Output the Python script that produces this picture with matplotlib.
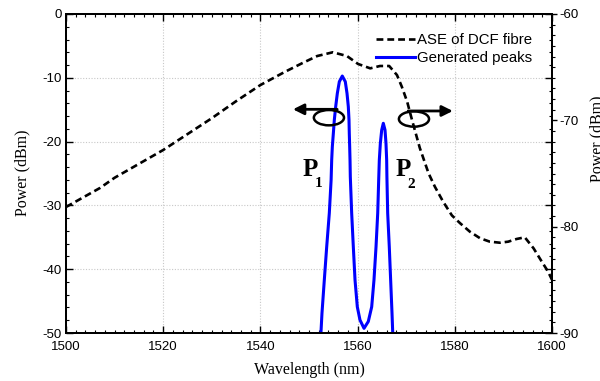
import matplotlib
matplotlib.use("Agg")
import matplotlib.pyplot as plt
from matplotlib.ticker import MultipleLocator
from matplotlib.patches import Ellipse

plt.rcParams["axes.unicode_minus"] = False

# ASE of DCF fibre (right axis, dBm)
ase_wl = [1500.0, 1507.0, 1510.0, 1520.0, 1530.0, 1535.0, 1540.0, 1545.0, 1548.8, 1551.7,
          1554.9, 1557.8, 1560.1, 1562.6, 1564.6, 1566.5, 1568.1, 1569.1, 1570.2, 1571.2,
          1572.8, 1574.6, 1575.9, 1577.6, 1579.4, 1581.1, 1583.1, 1585.2, 1587.2, 1589.3,
          1591.0, 1592.7, 1594.4, 1596.2, 1597.9, 1599.2, 1600.0]
ase_db = [-78.15, -76.36, -75.4, -72.79, -69.8, -68.2, -66.68, -65.45, -64.58, -63.95,
          -63.60, -63.95, -64.70, -65.11, -64.89, -64.89, -65.74, -66.84, -68.25, -69.97,
          -72.60, -74.98, -76.24, -77.65, -78.94, -79.68, -80.47, -81.09, -81.41, -81.51,
          -81.41, -81.16, -81.0, -82.03, -83.29, -84.23, -85.0]

# Generated peaks (left axis, dBm)
pk_wl = [1552.3, 1552.47, 1552.67, 1553.15, 1553.64, 1554.18, 1554.55, 1554.67, 1554.80,
         1555.01, 1555.21, 1555.49, 1555.83, 1556.24, 1556.85, 1557.47, 1557.82, 1558.09,
         1558.23, 1558.29, 1558.37, 1558.44, 1558.50, 1558.78, 1559.12, 1559.47, 1559.94,
         1560.49, 1561.32, 1562.20, 1562.90, 1563.37, 1563.79, 1564.14, 1564.34, 1564.47,
         1564.68, 1564.96, 1565.29, 1565.64, 1565.84, 1565.98, 1566.03, 1566.19, 1566.52,
         1566.80, 1567.08, 1567.22, 1567.35]
pk_db = [-52.0, -49.8, -46.9, -41.7, -36.5, -31.2, -26.0, -22.88, -20.80,
         -18.70, -16.61, -14.53, -12.43, -10.61, -9.72, -10.61, -12.43, -14.53,
         -16.61, -18.70, -20.80, -22.88, -25.5, -31.2, -36.5, -41.7, -45.9,
         -47.96, -49.27, -48.2, -45.9, -41.7, -36.5, -31.2, -26.0, -22.88,
         -20.27, -18.18, -17.13, -18.18, -20.27, -22.88, -25.5, -31.2, -36.5,
         -41.7, -46.9, -49.8, -52.0]

x_ticks = [1500, 1520, 1540, 1560, 1580, 1600]
left_ticks = [0, -10, -20, -30, -40, -50]
right_ticks = [-60, -70, -80, -90]

sans = ["Liberation Sans", "DejaVu Sans"]
serif = ["Liberation Serif", "DejaVu Serif"]

fig = plt.figure(figsize=(6, 3.81), dpi=100)
ax = fig.add_axes([66/600, 1-333/381, (552-66)/600, (333-14)/381])
ax2 = ax.twinx()

l2, = ax.plot(pk_wl, pk_db, color="#0000ff", lw=2.2, label="Generated peaks",
              solid_joinstyle="round", zorder=3)
l1, = ax2.plot(ase_wl, ase_db, color="black", lw=1.9, linestyle=(0, (2.6, 1.5)),
               label="ASE of DCF fibre")

ax.set_xlim(1500, 1600)
ax.set_ylim(-50, 0)
ax2.set_ylim(-90, -60)
ax.set_xticks(x_ticks)
ax.set_yticks(left_ticks)
ax2.set_yticks(right_ticks)
ax.xaxis.set_minor_locator(MultipleLocator(2))
ax.yaxis.set_minor_locator(MultipleLocator(2))
ax2.yaxis.set_minor_locator(MultipleLocator(1))

ax.grid(True, which="major", color="#c8c8c8", linestyle=(0, (1, 1.5)), lw=0.8)
ax.set_axisbelow(True)

ax.tick_params(which="both", direction="in", top=True, right=True, labelsize=9.5, pad=3)
ax.tick_params(axis="x", which="both", pad=6)
ax.tick_params(which="major", length=5, width=1.0)
ax.tick_params(which="minor", length=2.5, width=0.8)
ax2.tick_params(which="both", direction="out", labelsize=9.5, pad=2)
ax2.tick_params(which="major", length=3.5, width=1.0)
ax2.tick_params(which="minor", length=2, width=0.8)
for a in (ax, ax2):
    for lab in a.get_xticklabels() + a.get_yticklabels():
        lab.set_family(sans)
    for s in a.spines.values():
        s.set_linewidth(1.4)

fig.text(309/600, 1-370/381, "Wavelength (nm)", family=serif, fontsize=11.5,
         ha="center", va="center")
fig.text(22/600, 1-173/381, "Power (dBm)", family=serif, fontsize=11.5,
         ha="center", va="center", rotation=90)
fig.text(597/600, 1-139/381, "Power (dBm)", family=serif, fontsize=11.5,
         ha="center", va="center", rotation=90)

leg = ax2.legend([l1, l2], ["ASE of DCF fibre", "Generated peaks"], loc="upper right",
                 frameon=False, prop={"family": sans, "size": 10.8}, handlelength=2.6,
                 handletextpad=0.15, labelspacing=0.25, borderaxespad=0.0,
                 bbox_to_anchor=(1 - 14/486, 1 - 13/319))

# arrows with ellipses
ax.annotate("", xy=(1546.7, -14.94), xytext=(1555.8, -14.94),
            arrowprops=dict(arrowstyle="-|>", lw=2, color="black", mutation_scale=16,
                            shrinkA=0, shrinkB=0))
ax.add_patch(Ellipse((1554.1, -16.25), 6.2, 2.4, fill=False, lw=1.8, ec="black", zorder=4))
ax.annotate("", xy=(1579.6, -15.2), xytext=(1570.4, -15.2),
            arrowprops=dict(arrowstyle="-|>", lw=2, color="black", mutation_scale=16,
                            shrinkA=0, shrinkB=0))
ax.add_patch(Ellipse((1571.6, -16.46), 6.2, 2.4, fill=False, lw=1.8, ec="black", zorder=4))

ax.text(1550.2, -24.45, "P", family=serif, weight="bold", fontsize=18, ha="center", va="center")
ax.text(1552.0, -26.5, "1", family=serif, weight="bold", fontsize=11, ha="center", va="center")
ax.text(1569.4, -24.45, "P", family=serif, weight="bold", fontsize=18, ha="center", va="center")
ax.text(1571.0, -26.8, "2", family=serif, weight="bold", fontsize=11, ha="center", va="center")

fig.savefig("out.png", dpi=100)
